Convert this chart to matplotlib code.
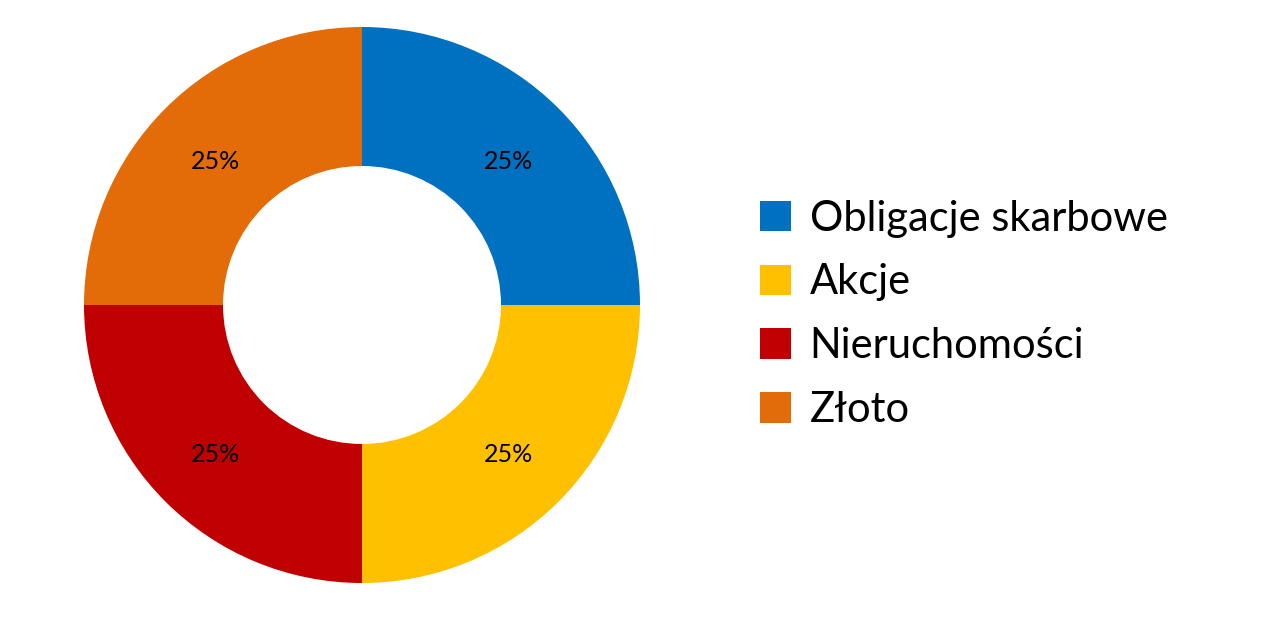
import matplotlib
matplotlib.use("Agg")
import matplotlib.pyplot as plt
from matplotlib.patches import Patch
import numpy as np

categories = ["Obligacje skarbowe", "Akcje", "Nieruchomości", "Złoto"]
values = [25, 25, 25, 25]
colors = ["#0070C0", "#FFC000", "#C00000", "#E36C09"]

plt.rcParams['font.family'] = ['Lato', 'DejaVu Sans']
fig = plt.figure(figsize=(12.8, 6.35), dpi=100)
ax = fig.add_axes([84/1280, 52/635, 556/1280, 556/635])
wedges, texts = ax.pie(values, colors=colors, startangle=90, counterclock=False,
                       radius=1, wedgeprops=dict(width=0.5, linewidth=0))
total = sum(values)
ang = 90
for v in values:
    mid = np.deg2rad(ang - v / total * 180)
    ax.text(0.745 * np.cos(mid), 0.745 * np.sin(mid) - 0.01, f"{v}%", ha="center", va="center", fontsize=18)
    ang -= v / total * 360
ax.set_xlim(-1, 1); ax.set_ylim(-1, 1); ax.set_aspect("equal"); ax.axis("off")

handles = [Patch(facecolor=c, edgecolor="none") for c in colors]
fig.legend(handles, categories, loc="center left", bbox_to_anchor=(722/1280, 0.505), frameon=False,
           fontsize=30, handlelength=0.75, handleheight=0.75, handletextpad=0.45, labelspacing=0.62)
fig.savefig("out.png", dpi=100, facecolor="white")
